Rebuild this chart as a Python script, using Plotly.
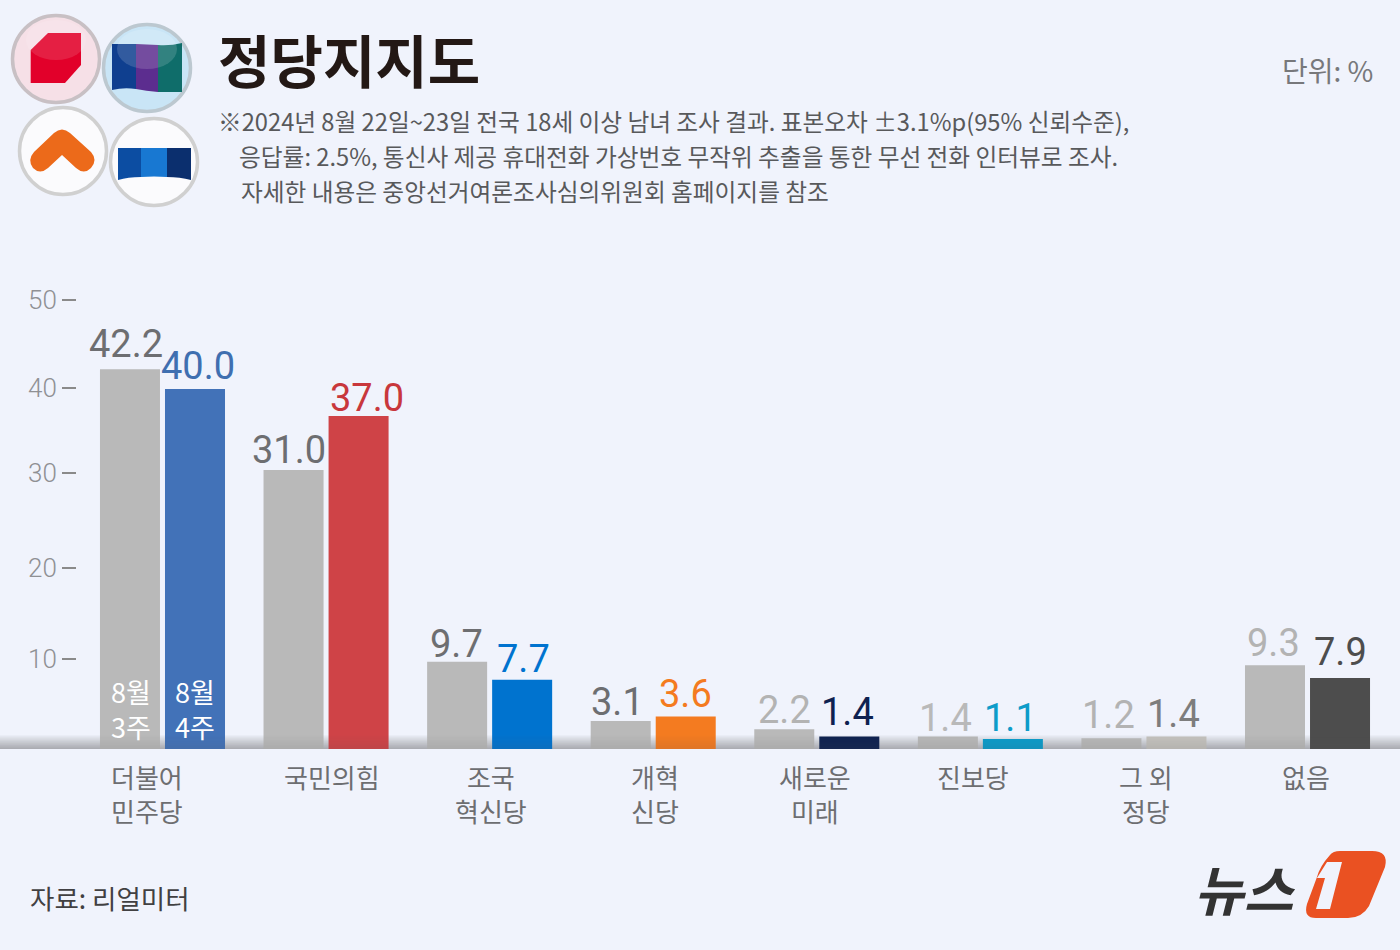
import plotly.graph_objects as go

W = 1400
H = 950
KR_FONT = "Noto Sans CJK KR"
NUM_FONT = "Roboto"

# Data
parties = ["더불어<br>민주당", "국민의힘", "조국<br>혁신당", "개혁<br>신당", "새로운<br>미래", "진보당", "그 외<br>정당", "없음"]
week3 = [42.2, 31.0, 9.7, 3.1, 2.2, 1.4, 1.2, 9.3]
week4 = [40.0, 37.0, 7.7, 3.6, 1.4, 1.1, 1.4, 7.9]
week3_colors = ["#b9b9b9"] * 8
week4_colors = ["#4272b8", "#cf4347", "#0073cf", "#f47b20", "#0e2150", "#0a9ccb", "#c4c2be", "#4d4d4d"]
week3_label_colors = ["#6d6e71", "#6d6e71", "#6d6e71", "#6d6e71", "#b3b3b3", "#b9b9b9", "#b3b3b3", "#b3b3b3"]
week4_label_colors = ["#3f6fb0", "#c8373c", "#0073cf", "#f47b20", "#0e2150", "#0d9cc9", "#7d7d7d", "#4d4d4d"]
tick_positions = [10.0, 20.1, 30.7, 40.1, 49.9]
tick_labels = ["10", "20", "30", "40", "50"]
note_lines = [
    "※2024년 8월 22일~23일 전국 18세 이상 남녀 조사 결과. 표본오차 ±3.1%p(95% 신뢰수준),",
    "응답률: 2.5%, 통신사 제공 휴대전화 가상번호 무작위 추출을 통한 무선 전화 인터뷰로 조사.",
    "자세한 내용은 중앙선거여론조사심의위원회 홈페이지를 참조",
]

# nudges of the labels against their bars, as placed in the original
week3_nudge = [-4, -5, -1, -3, 0, -2, -3, -2]
week4_nudge = [3, 8, 1, 0, -2, -2, -3, 0]
week3_lift = [1, -4, -6, -5, -5, -6, -1, -2]
week4_lift = [-1, -6, -3, -1, 0, -3, -2, 2]
party_nudge = [-15, 6, 1.5, 2, -2, -7, 2.5, -1.5]


def px(x, y):
    return x / W, 1 - y / H


def path(d):
    # d is a list of svg commands with pixel points, e.g. ("M", (x, y))
    out = []
    for cmd, *pts in d:
        if cmd == "L":
            for p in pts:
                out.append("L %.5f,%.5f" % px(*p))
        else:
            out.append(cmd + " " + " ".join("%.5f,%.5f" % px(*p) for p in pts))
    return " ".join(out)


def path_shape(d, color, opacity=1):
    return dict(type="path", xref="paper", yref="paper", path=path(d) + " Z",
                fillcolor=color, opacity=opacity, line=dict(width=0), layer="above")


def circle_shape(cx, cy, r, fill, ring):
    x0, y0 = px(cx - r, cy - r)
    x1, y1 = px(cx + r, cy + r)
    return dict(type="circle", xref="paper", yref="paper", x0=x0, y0=y0, x1=x1, y1=y1,
                fillcolor=fill, line=dict(color=ring, width=3.5), layer="above")


def gloss_shape(cx, cy, rx, ry, opacity):
    x0, y0 = px(cx - rx, cy - ry)
    x1, y1 = px(cx + rx, cy + ry)
    return dict(type="circle", xref="paper", yref="paper", x0=x0, y0=y0, x1=x1, y1=y1,
                fillcolor="#ffffff", opacity=opacity, line=dict(width=0), layer="above")


def label(x, y, text, size, color, anchor="left", style=None):
    return dict(xref="paper", yref="paper", x=x / W, y=1 - y / H, text=text, showarrow=False,
                xanchor=anchor, yanchor="middle",
                font=dict(family=KR_FONT, size=size, color=color, style=style))


def value_labels(values, colors, offset, nudges, lifts):
    out = []
    for party, v, c, n, l in zip(parties, values, colors, nudges, lifts):
        out.append(dict(xref="x", yref="y", x=party, y=v, text="%.1f" % v, showarrow=False,
                        xanchor="center", yanchor="bottom", xshift=offset + n, yshift=l,
                        font=dict(family=NUM_FONT, size=38, color=c)))
    return out


fig = go.Figure()
fig.add_trace(go.Bar(x=parties, y=week3, name="8월 3주", marker=dict(color=week3_colors, line=dict(width=0))))
fig.add_trace(go.Bar(x=parties, y=week4, name="8월 4주", marker=dict(color=week4_colors, line=dict(width=0))))

shapes = []

# darker band along the baseline: strong behind the bars, faint over them
band_top = 735
band_bottom = 749
for i in range(band_bottom - band_top):
    x0, y0 = px(0, band_top + i)
    x1, y1 = px(W, band_top + i + 1)
    for layer, step in [("below", 0.026), ("above", 0.009)]:
        shapes.append(dict(type="rect", xref="paper", yref="paper", x0=x0, x1=x1, y0=y0, y1=y1,
                           fillcolor="#555555", opacity=step * (i + 1), line=dict(width=0), layer=layer))

# party logos
shapes.append(circle_shape(56, 59, 43.5, "#f6e0e7", "#c8c0c4"))
shapes.append(path_shape([("M", (30.7, 50)), ("L", (48, 33), (81, 33), (81, 65), (65, 83), (30.7, 83))], "#e2002a"))
shapes.append(gloss_shape(56, 40, 30, 20, 0.12))

shapes.append(circle_shape(147, 68, 43.5, "#c9e5f6", "#bcc8d0"))
shapes.append(path_shape([("M", (112, 44)), ("L", (136, 44), (136, 89)), ("Q", (124, 87), (112, 90))], "#0f3f8f"))
shapes.append(path_shape([("M", (136, 44)), ("L", (158, 45), (158, 92)), ("Q", (146, 91), (136, 89))], "#5c2d8f"))
shapes.append(path_shape([("M", (158, 45)), ("Q", (170, 46), (182, 43)), ("L", (182, 92), (158, 92))], "#0f6d6a"))
shapes.append(gloss_shape(147, 49, 30, 20, 0.15))

shapes.append(circle_shape(63, 151, 43.5, "#fbfbfd", "#d0d0d0"))
shapes.append(path_shape([("M", (34, 152)), ("L", (54, 133)), ("Q", (62, 126), (70, 133)), ("L", (91, 152)),
                          ("Q", (98, 160), (91, 168)), ("Q", (84, 175), (76, 168)), ("L", (62, 155), (48, 168)),
                          ("Q", (40, 175), (33, 168)), ("Q", (27, 160), (34, 152))], "#ec6a1a"))

shapes.append(circle_shape(154, 162, 43.5, "#fbfbfd", "#d0d0d0"))
shapes.append(path_shape([("M", (118, 148)), ("L", (141, 148), (141, 177)), ("Q", (128, 177), (118, 180))], "#0c4da2"))
shapes.append(path_shape([("M", (141, 148)), ("L", (167, 148), (167, 177)), ("Q", (154, 176), (141, 177))], "#1878d2"))
shapes.append(path_shape([("M", (167, 148)), ("L", (191, 148), (191, 180)), ("Q", (180, 177), (167, 177))], "#0b2f6e"))

# news1 mark
shapes.append(path_shape([("M", (1330, 855)), ("Q", (1333, 851), (1340, 851)), ("L", (1372, 851)),
                          ("Q", (1389, 851), (1385, 867)), ("L", (1369, 906)), ("Q", (1362, 918), (1348, 918)),
                          ("L", (1316, 918)), ("Q", (1303, 918), (1307, 904)), ("L", (1317, 877)),
                          ("Q", (1320, 866), (1330, 855))], "#ea5122"))
shapes.append(path_shape([("M", (1327, 862)), ("L", (1342, 862), (1330, 909), (1316, 909), (1325, 878), (1317, 878))],
                         "#f0f3fc"))

annotations = [
    label(216, 58, "<b>정당지지도</b>", 57, "#231815"),
    label(1375, 70, "단위: %", 28, "#77787b", anchor="right"),
    label(216, 121, note_lines[0], 23.7, "#58595b"),
    label(237, 156, note_lines[1], 23.7, "#58595b"),
    label(239, 191, note_lines[2], 23.7, "#58595b"),
    label(28, 897, "자료: 리얼미터", 26.5, "#414042"),
    label(1245, 887, "<b>뉴스</b>", 54, "#333333", anchor="center", style="italic"),
]
for xshift, text in [(-31, "8월<br>3주"), (32.5, "8월<br>4주")]:
    annotations.append(dict(xref="x", yref="y", x=parties[0], y=4.4, xshift=xshift, text=text, showarrow=False,
                            font=dict(family=KR_FONT, size=27, color="#ffffff"), align="center"))
annotations += value_labels(week3, week3_label_colors, -32.5, week3_nudge, week3_lift)
annotations += value_labels(week4, week4_label_colors, 32.5, week4_nudge, week4_lift)
for party, n in zip(parties, party_nudge):
    annotations.append(dict(xref="x", yref="paper", x=party, y=1 - 756 / H, xshift=n, text=party, showarrow=False,
                            xanchor="center", yanchor="top", align="center",
                            font=dict(family=KR_FONT, size=26, color="#6d6e71")))

fig.update_layout(
    width=W,
    height=H,
    margin=dict(l=0, r=0, t=0, b=0),
    paper_bgcolor="#f0f3fc",
    plot_bgcolor="rgba(0,0,0,0)",
    barmode="group",
    bargap=0.205,
    bargroupgap=0.077,
    showlegend=False,
    shapes=shapes,
    annotations=annotations,
    xaxis=dict(
        automargin=False,
        domain=[80.7 / W, 1389.3 / W],
        categoryorder="array",
        categoryarray=parties,
        showgrid=False,
        zeroline=False,
        showline=False,
        ticks="",
        showticklabels=False,
    ),
    yaxis=dict(
        automargin=False,
        domain=[1 - 749 / H, 1 - 299 / H],
        range=[0, 50],
        anchor="free",
        position=76 / W,
        tickmode="array",
        tickvals=tick_positions,
        ticktext=tick_labels,
        ticks="outside",
        ticklen=14,
        tickwidth=1.5,
        tickcolor="#8a8a8a",
        tickfont=dict(family=NUM_FONT, size=26, color="#8f9094", weight=300),
        showgrid=False,
        zeroline=False,
        showline=False,
    ),
)

fig.write_html("out.html", config=dict(displayModeBar=False),
               post_script="document.body.style.margin='0'; document.body.style.overflow='hidden';")
